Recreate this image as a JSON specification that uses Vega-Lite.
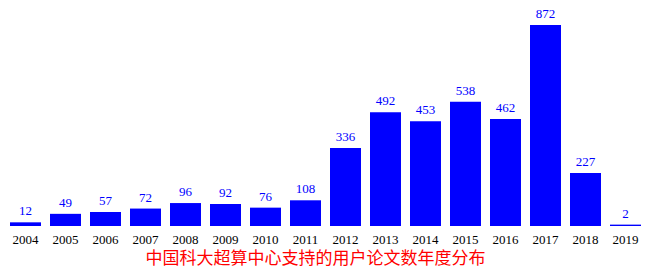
{
  "$schema": "https://vega.github.io/schema/vega-lite/v6.json",
  "autosize": {"type": "none"},
  "width": 640,
  "height": 201,
  "padding": {"left": 5.5, "top": 25, "right": 4.5, "bottom": 44},
  "background": "white",
  "config": {"view": {"stroke": null}},
  "title": {
    "text": "中国科大超算中心支持的用户论文数年度分布",
    "orient": "bottom",
    "font": "Noto Sans CJK SC",
    "fontSize": 17,
    "fontWeight": "normal",
    "color": "#ff0000",
    "offset": 5,
    "dx": -10
  },
  "data": {
    "values": [
      {"year": "2004", "count": 12},
      {"year": "2005", "count": 49},
      {"year": "2006", "count": 57},
      {"year": "2007", "count": 72},
      {"year": "2008", "count": 96},
      {"year": "2009", "count": 92},
      {"year": "2010", "count": 76},
      {"year": "2011", "count": 108},
      {"year": "2012", "count": 336},
      {"year": "2013", "count": 492},
      {"year": "2014", "count": 453},
      {"year": "2015", "count": 538},
      {"year": "2016", "count": 462},
      {"year": "2017", "count": 872},
      {"year": "2018", "count": 227},
      {"year": "2019", "count": 2}
    ]
  },
  "encoding": {
    "x": {
      "field": "year",
      "type": "ordinal",
      "scale": {"paddingInner": 0.225, "paddingOuter": 0.1125},
      "axis": {
        "title": null,
        "labelAngle": 0,
        "domain": false,
        "ticks": false,
        "labelPadding": 7,
        "labelFont": "Liberation Serif",
        "labelFontSize": 13,
        "labelColor": "#000000"
      }
    },
    "y": {
      "field": "count",
      "type": "quantitative",
      "scale": {"domain": [-4, 872], "nice": false, "zero": false},
      "axis": null
    }
  },
  "layer": [
    {
      "mark": {"type": "bar", "color": "#0000ff"},
      "encoding": {"y2": {"datum": -4}}
    },
    {
      "mark": {
        "type": "text",
        "baseline": "bottom",
        "dy": -4,
        "font": "Liberation Serif",
        "fontSize": 13,
        "color": "#0000ff"
      },
      "encoding": {"text": {"field": "count", "type": "quantitative"}}
    }
  ]
}
